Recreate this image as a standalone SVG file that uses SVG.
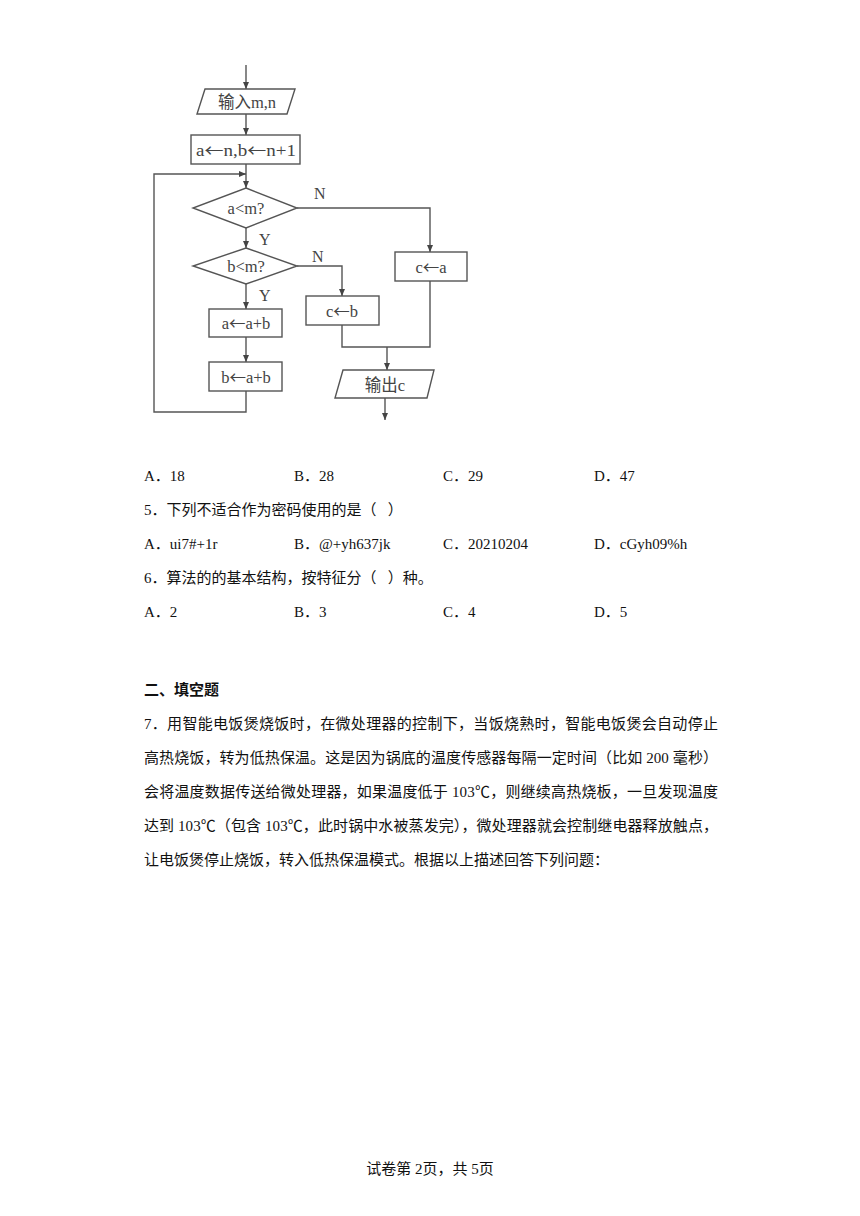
<svg xmlns="http://www.w3.org/2000/svg" width="860" height="1216" viewBox="0 0 860 1216">
<defs>
<marker id="ah" markerWidth="8" markerHeight="8" refX="7" refY="4" orient="auto" markerUnits="userSpaceOnUse">
<path d="M0,1 L7,4 L0,7 Z" fill="#444"/>
</marker>
<style>
.sh{fill:#fff;stroke:#555;stroke-width:1.4}
.ln{fill:none;stroke:#555;stroke-width:1.4}
.ft{font-family:"Liberation Serif","Noto Sans CJK SC",serif;font-size:16.5px;fill:#444;text-anchor:middle;dominant-baseline:central}
.ar{font-family:"Noto Sans CJK SC",sans-serif}
.lb{font-family:"Liberation Serif",serif;font-size:16px;fill:#444}
.tx{font-family:"Liberation Serif","Noto Sans CJK SC",serif;font-size:15px;fill:#111}
.bd{font-family:"Liberation Serif","Noto Sans CJK SC",serif;font-size:15px;fill:#111;font-weight:bold}
</style>
</defs>
<rect width="860" height="1216" fill="#fff"/>
<g id="connectors">
<path class="ln" d="M246,65 V89" marker-end="url(#ah)"/>
<path class="ln" d="M246,114 V135" marker-end="url(#ah)"/>
<path class="ln" d="M246,164 V188" marker-end="url(#ah)"/>
<path class="ln" d="M297,208 H430 V252" marker-end="url(#ah)"/>
<path class="ln" d="M246,228 V248" marker-end="url(#ah)"/>
<path class="ln" d="M297,266 H342 V296" marker-end="url(#ah)"/>
<path class="ln" d="M246,284 V309" marker-end="url(#ah)"/>
<path class="ln" d="M246,337 V362" marker-end="url(#ah)"/>
<path class="ln" d="M246,391 V412 H154 V174 H246" marker-end="url(#ah)"/>
<path class="ln" d="M342,325 V347 H430 V281"/>
<path class="ln" d="M387,347 V370" marker-end="url(#ah)"/>
<path class="ln" d="M385,398 V420" marker-end="url(#ah)"/>
<text class="lb" x="314" y="199">N</text>
<text class="lb" x="259" y="245">Y</text>
<text class="lb" x="312" y="262">N</text>
<text class="lb" x="259" y="301">Y</text>
</g>
<g id="input">
<polygon class="sh" points="205,89 295,89 287,114 197,114"/>
<text class="ft" x="247" y="102">输入m,n</text>
</g>
<g id="init">
<rect class="sh" x="191" y="135" width="109" height="29"/>
<text class="ft" x="246" y="150" textLength="100" lengthAdjust="spacingAndGlyphs">a<tspan class="ar">←</tspan>n,b<tspan class="ar">←</tspan>n+1</text>
</g>
<g id="cond-a">
<polygon class="sh" points="246,188 297,208 246,228 193,208"/>
<text class="ft" x="246" y="208">a&lt;m?</text>
</g>
<g id="cond-b">
<polygon class="sh" points="246,248 297,266 246,284 193,266"/>
<text class="ft" x="246" y="266">b&lt;m?</text>
</g>
<g id="a-update">
<rect class="sh" x="209" y="309" width="73" height="28"/>
<text class="ft" x="246" y="323">a<tspan class="ar">←</tspan>a+b</text>
</g>
<g id="b-update">
<rect class="sh" x="209" y="362" width="73" height="29"/>
<text class="ft" x="246" y="377">b<tspan class="ar">←</tspan>a+b</text>
</g>
<g id="c-b">
<rect class="sh" x="306" y="296" width="73" height="29"/>
<text class="ft" x="342" y="311">c<tspan class="ar">←</tspan>b</text>
</g>
<g id="c-a">
<rect class="sh" x="395" y="252" width="72" height="29"/>
<text class="ft" x="431" y="267">c<tspan class="ar">←</tspan>a</text>
</g>
<g id="output">
<polygon class="sh" points="343,370 434,370 427,398 335,398"/>
<text class="ft" x="385" y="385">输出c</text>
</g>
<g id="text">
<text class="tx" x="144" y="481">A．18</text>
<text class="tx" x="294" y="481">B．28</text>
<text class="tx" x="443" y="481">C．29</text>
<text class="tx" x="594" y="481">D．47</text>
<text class="tx" x="144" y="515">5．下列不适合作为密码使用的是（&#160;&#160;&#160;）</text>
<text class="tx" x="144" y="549">A．ui7#+1r</text>
<text class="tx" x="294" y="549">B．@+yh637jk</text>
<text class="tx" x="443" y="549">C．20210204</text>
<text class="tx" x="594" y="549">D．cGyh09%h</text>
<text class="tx" x="144" y="583">6．算法的的基本结构，按特征分（&#160;&#160;&#160;）种。</text>
<text class="tx" x="144" y="617">A．2</text>
<text class="tx" x="294" y="617">B．3</text>
<text class="tx" x="443" y="617">C．4</text>
<text class="tx" x="594" y="617">D．5</text>
<text class="bd" x="144" y="695">二、填空题</text>
<text class="tx" x="144" y="729" textLength="574" lengthAdjust="spacing">7．用智能电饭煲烧饭时，在微处理器的控制下，当饭烧熟时，智能电饭煲会自动停止</text>
<text class="tx" x="144" y="763" textLength="574" lengthAdjust="spacing">高热烧饭，转为低热保温。这是因为锅底的温度传感器每隔一定时间（比如 200 毫秒）</text>
<text class="tx" x="144" y="797" textLength="574" lengthAdjust="spacing">会将温度数据传送给微处理器，如果温度低于 103℃，则继续高热烧板，一旦发现温度</text>
<text class="tx" x="144" y="831" textLength="574" lengthAdjust="spacing">达到 103℃（包含 103℃，此时锅中水被蒸发完），微处理器就会控制继电器释放触点，</text>
<text class="tx" x="144" y="865">让电饭煲停止烧饭，转入低热保温模式。根据以上描述回答下列问题：</text>
<text class="tx" x="430" y="1174" text-anchor="middle" font-size="14">试卷第 2页，共 5页</text>
</g>
</svg>
